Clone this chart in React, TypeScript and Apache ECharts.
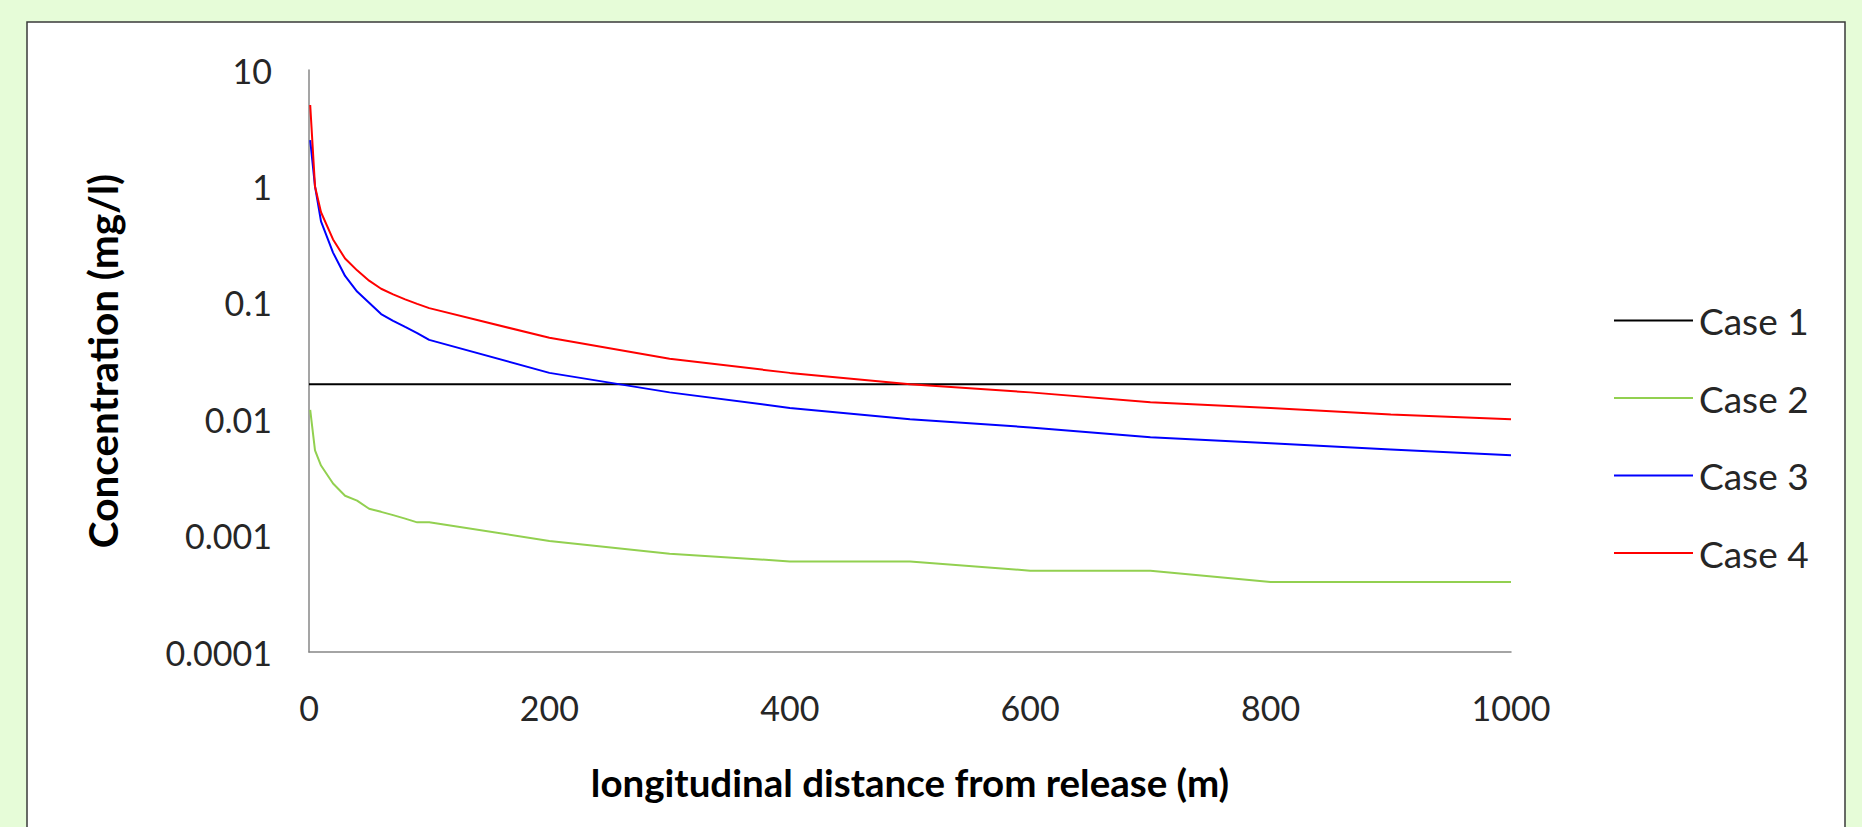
import React, { useEffect, useRef } from "react";
import * as echarts from "echarts";

const distances = [1, 5, 10, 20, 30, 40, 50, 60, 70, 80, 90, 100, 200, 300, 400, 500, 600, 700, 800, 900, 1000];
const case1Distances = [0, 1000];
const case1 = [0.02, 0.02];
const case2 = [0.012, 0.0054, 0.004, 0.0028, 0.0022, 0.002, 0.0017, 0.0016, 0.0015, 0.0014, 0.0013, 0.0013, 0.0009, 0.0007, 0.0006, 0.0006, 0.0005, 0.0005, 0.0004, 0.0004, 0.0004];
const case3 = [2.5, 1.0, 0.5, 0.27, 0.17, 0.125, 0.1, 0.08, 0.07, 0.062, 0.055, 0.048, 0.025, 0.017, 0.0125, 0.01, 0.0085, 0.007, 0.0062, 0.0055, 0.0049];
const case4 = [5, 1.0, 0.6, 0.35, 0.24, 0.19, 0.155, 0.132, 0.118, 0.107, 0.098, 0.09, 0.05, 0.033, 0.025, 0.02, 0.017, 0.014, 0.0125, 0.011, 0.01];
const yTickLabels = ["0.0001", "0.001", "0.01", "0.1", "1", "10"];
const seriesNames = ["Case 1", "Case 2", "Case 3", "Case 4"];
const seriesColors = ["#000000", "#92d050", "#0000ff", "#ff0000"];

const FONT = "Lato";

export default function App() {
  const ref = useRef<HTMLDivElement>(null);
  useEffect(() => {
    document.body.style.margin = "0";
    if (!ref.current) return;
    const chart = echarts.init(ref.current, null, { renderer: "svg" });
    const pair = (xs: number[], ys: number[]) => xs.map((x, i) => [x, ys[i]]);
    const datasets = [
      pair(case1Distances, case1),
      pair(distances, case2),
      pair(distances, case3),
      pair(distances, case4),
    ];
    chart.setOption({
      animation: false,
      backgroundColor: "#e6fcd8",
      textStyle: { fontFamily: FONT },
      graphic: [
        {
          type: "rect",
          shape: { x: 27, y: 22, width: 1818, height: 830 },
          style: { fill: "#ffffff", stroke: "#3a3a3a", lineWidth: 1.5 },
          z: -10,
          silent: true,
        },
      ],
      grid: { left: 309, top: 70, width: 1202, height: 582, containLabel: false },
      xAxis: {
        type: "value",
        min: 0,
        max: 1000,
        interval: 200,
        name: "longitudinal distance from release (m)",
        nameLocation: "middle",
        nameGap: 110,
        nameTextStyle: { fontFamily: FONT, fontWeight: "bold", fontSize: 38.5, color: "#000" },
        axisLine: { show: true, lineStyle: { color: "#878787", width: 1.5 } },
        axisTick: { show: false },
        splitLine: { show: false },
        axisLabel: {
          fontFamily: FONT,
          fontSize: 34,
          color: "#262626",
          margin: 38,
          formatter: (v: number) => String(v),
        },
      },
      yAxis: {
        type: "log",
        logBase: 10,
        min: 0.0001,
        max: 10,
        name: "Concentration (mg/l)",
        nameLocation: "middle",
        nameRotate: 90,
        nameGap: 186,
        nameTextStyle: { fontFamily: FONT, fontWeight: "bold", fontSize: 40.5, color: "#000" },
        axisLine: { show: true, lineStyle: { color: "#878787", width: 1.5 } },
        axisTick: { show: false },
        splitLine: { show: false },
        axisLabel: {
          fontFamily: FONT,
          fontSize: 34,
          color: "#262626",
          margin: 37,
          formatter: (v: number) => {
            const e = Math.round(Math.log10(v)) + 4;
            return yTickLabels[e] ?? "";
          },
        },
      },
      legend: {
        orient: "vertical",
        left: 1609,
        top: 295,
        icon: "rect",
        itemWidth: 79,
        itemHeight: 2,
        itemGap: 36.5,
        data: seriesNames,
        textStyle: { fontFamily: FONT, fontSize: 37, color: "#262626", lineHeight: 41, padding: [0, 0, 0, 1] },
      },
      series: seriesNames.map((name, i) => ({
        name,
        type: "line",
        data: datasets[i],
        symbol: "none",
        showSymbol: false,
        lineStyle: { color: seriesColors[i], width: 2 },
        itemStyle: { color: seriesColors[i] },
        z: i + 2,
      })),
    });
    return () => chart.dispose();
  }, []);
  return <div ref={ref} style={{ width: 1862, height: 827 }} />;
}
